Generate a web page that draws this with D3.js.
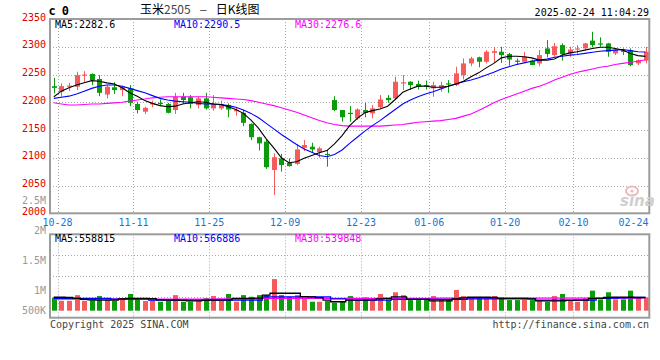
<!DOCTYPE html>
<html><head><meta charset="utf-8">
<script src="https://cdn.jsdelivr.net/npm/d3@7"></script>
<style>html,body{margin:0;padding:0;background:#fff;}svg{display:block;}</style>
</head><body>
<svg id="c" width="660" height="360"></svg>
<script>
const dates = ["10-28","10-29","10-30","10-31","11-01","11-04","11-05","11-06","11-07","11-08",
"11-11","11-12","11-13","11-14","11-15","11-18","11-19","11-20","11-21","11-22",
"11-25","11-26","11-27","11-28","11-29","12-02","12-03","12-04","12-05","12-06",
"12-09","12-10","12-11","12-12","12-13","12-16","12-17","12-18","12-19","12-20",
"12-23","12-24","12-25","12-26","12-27","12-30","12-31","01-02","01-03","01-06",
"01-07","01-08","01-09","01-10","01-13","01-14","01-15","01-16","01-17","01-20",
"01-21","01-22","01-23","01-24","01-27","02-05","02-06","02-07","02-10","02-11",
"02-12","02-13","02-14","02-17","02-18","02-19","02-20","02-21","02-24"];
const openP = [2229,2219,2228,2228,2248,2251,2242,2214,2227,2222, 2225,2197,2183,2196,2199,2197,2186,2210,2209,2195,
2207,2189,2189,2195,2185,2181,2161,2137,2129,2078, 2099,2091,2089,2118,2120,2110,2107,2204,2186,2181,
2171,2186,2180,2191,2208,2207,2235,2237,2233,2231, 2225,2225,2234,2231,2249,2270,2281,2273,2289,2291,
2287,2275,2273,2275,2270,2297,2285,2303,2288,2296, 2297,2311,2306,2306,2288,2293,2294,2270,2275];
const highP = [2244,2234,2235,2255,2256,2252,2249,2231,2236,2230, 2231,2201,2192,2203,2205,2199,2217,2217,2213,2210,
2217,2213,2203,2198,2190,2186,2162,2138,2132,2108, 2107,2099,2125,2132,2127,2120,2114,2211,2186,2193,
2189,2199,2195,2213,2213,2246,2249,2238,2239,2239, 2237,2237,2240,2264,2279,2282,2282,2294,2300,2300,
2289,2279,2291,2277,2294,2312,2307,2306,2300,2303, 2307,2327,2317,2307,2297,2297,2297,2277,2300];
const lowP = [2216,2210,2220,2222,2237,2231,2211,2207,2215,2211, 2193,2180,2179,2191,2193,2180,2179,2197,2189,2189,
2187,2185,2186,2173,2176,2157,2132,2113,2080,2033, 2075,2084,2087,2112,2109,2100,2084,2184,2165,2165,
2168,2173,2171,2189,2199,2205,2222,2222,2223,2223, 2210,2219,2217,2229,2241,2265,2263,2270,2271,2271,
2266,2267,2271,2267,2265,2281,2282,2275,2282,2287, 2295,2299,2300,2282,2285,2285,2265,2267,2270];
const closeP = [2226,2229,2230,2249,2250,2240,2217,2228,2222,2228, 2199,2186,2190,2199,2197,2181,2210,2204,2197,2207,
2189,2197,2197,2187,2186,2163,2137,2126,2083,2101, 2087,2085,2115,2123,2115,2117,2105,2186,2173,2179,
2187,2181,2189,2205,2204,2237,2236,2231,2228,2230, 2231,2231,2232,2252,2270,2279,2273,2291,2292,2285,
2277,2274,2282,2267,2285,2287,2301,2287,2295,2297, 2306,2303,2305,2291,2295,2292,2267,2276,2291];
const ma5 = [2210,2220,2226,2231,2235,2239,2238,2235,2233,2226, 2217,2211,2203,2198,2194,2192,2193,2197,2199,2201,
2200,2197,2196,2192,2187,2180,2168,2153,2134,2118, 2100,2091,2093,2099,2104,2109,2113,2125,2140,2158,
2171,2181,2185,2188,2193,2205,2218,2224,2229,2229, 2227,2227,2229,2233,2238,2246,2253,2262,2270,2280,
2283,2283,2282,2280,2276,2276,2278,2285,2289,2291, 2294,2297,2299,2299,2297,2294,2288,2284,2282.6];
const ma10 = [2207,2209,2211,2215,2220,2225,2229,2231,2231,2229, 2225,2221,2217,2212,2207,2204,2202,2201,2200,2198,
2197,2197,2196,2194,2191,2186,2180,2172,2162,2152, 2142,2133,2124,2116,2110,2104,2102,2106,2114,2126,
2137,2148,2158,2167,2177,2187,2197,2204,2210,2215, 2219,2224,2229,2233,2237,2240,2244,2249,2254,2260,
2264,2268,2271,2274,2276,2278,2281,2283,2285,2286, 2288,2290,2292,2293,2294,2295,2293,2291,2290.5];
const ma30 = [2199,2197,2195,2195,2196,2197,2197,2198,2199,2200, 2202,2204,2206,2208,2209,2210,2210,2210,2210,2210,
2210,2209,2208,2207,2206,2205,2203,2200,2197,2194, 2190,2186,2182,2177,2172,2167,2163,2160,2158,2157,
2157,2157,2157,2157,2158,2159,2160,2162,2164,2165, 2166,2167,2169,2171,2175,2179,2185,2192,2199,2205,
2210,2215,2220,2225,2229,2234,2240,2245,2250,2254, 2257,2260,2263,2265,2268,2270,2272,2274,2276.6];
const volume = [550000,420000,420000,660000,420000,450000,620000,480000,420000,530000,
710000,530000,410000,530000,380000,410000,660000,380000,380000,410000,
530000,620000,410000,710000,380000,660000,590000,660000,660000,1340000,
660000,590000,660000,530000,380000,380000,410000,340000,380000,620000,
450000,560000,450000,710000,480000,780000,660000,450000,450000,480000,
620000,480000,480000,880000,620000,530000,560000,530000,620000,560000,
450000,450000,480000,450000,450000,380000,620000,710000,450000,380000,
530000,850000,480000,780000,480000,480000,850000,560000,560000];
const volMa5 = [570000,570000,560000,520000,480000,460000,450000,450000,450000,500000,
520000,520000,520000,510000,460000,450000,450000,440000,420000,420000,
440000,450000,450000,460000,520000,520000,520000,530000,660000,740000,
740000,740000,740000,600000,590000,550000,450000,380000,380000,450000,
450000,450000,460000,500000,520000,590000,590000,480000,480000,480000,
420000,420000,420000,500000,540000,570000,570000,570000,560000,520000,
520000,520000,520000,500000,420000,420000,420000,420000,440000,450000,
450000,520000,520000,560000,570000,570000,570000,560000,558815];
const volMa10 = [520000,520000,520000,520000,520000,520000,520000,520000,490000,490000,
490000,490000,490000,450000,450000,450000,450000,450000,450000,450000,
450000,450000,450000,450000,450000,450000,450000,450000,590000,590000,
590000,590000,590000,590000,590000,590000,590000,500000,500000,450000,
450000,450000,450000,450000,450000,480000,480000,480000,480000,480000,
480000,480000,480000,480000,480000,500000,500000,500000,500000,500000,
500000,500000,500000,500000,450000,450000,450000,450000,450000,450000,
450000,450000,520000,520000,530000,540000,550000,560000,566886];
const volMa30 = [490000,490000,490000,490000,490000,490000,490000,490000,490000,490000,
490000,490000,490000,490000,490000,490000,490000,490000,490000,490000,
490000,490000,495000,495000,495000,495000,500000,500000,520000,520000,
520000,520000,520000,520000,520000,520000,520000,520000,520000,520000,
520000,520000,520000,520000,520000,525000,525000,525000,525000,525000,
525000,530000,530000,530000,530000,530000,530000,530000,530000,530000,
530000,530000,530000,530000,530000,530000,535000,535000,535000,535000,
535000,535000,535000,538000,538000,538000,539000,539000,539848];
const priceTicks = [2350,2300,2250,2200,2150,2100,2050,2000];
const volTicks = [2500000,2000000,1500000,1000000,500000];
const volTickLabels = ["2.5M","2M","1.5M","1M","500K"];
const dateTicks = ["10-28","11-11","11-25","12-09","12-23","01-06","01-20","02-10","02-24"];

const svg = d3.select("#c");
const L = 50, R = 649.3, T = 19, B = 213.3;
const VT = 234.3, VB = 317.7, VBase = 310.7;
const mono = "'DejaVu Sans Mono', monospace";
const RED = "#f55b5b", GREEN = "#0a9c0a", GRID = "#aaa", FRAME = "#9c9c9c";

const x = d3.scaleBand().domain(dates).range([L, R]);
const bw = x.bandwidth();
const cx = d => x(d) + bw / 2;
const y = d3.scaleLinear().domain([2000, 2350]).range([B, T]);
const yv = d3.scaleLinear().domain([0, 1000000]).range([VBase, VBase - 23.6]);
const yvLab = d3.scaleLinear().domain([500000, 1000000, 2500000]).range([314, 294, 204]);

// grids
const g = svg.append("g");
priceTicks.filter(v => v !== 2350 && v !== 2000).forEach(v => {
  g.append("line").attr("x1", L).attr("x2", R).attr("y1", Math.round(y(v)) + 0.5).attr("y2", Math.round(y(v)) + 0.5)
   .attr("stroke", GRID).attr("stroke-dasharray", "1,2");
});
dateTicks.slice(0, -1).forEach(d => {
  const gx = Math.round(x(d) + bw) + 0.5;
  g.append("line").attr("x1", gx).attr("x2", gx).attr("y1", T).attr("y2", B).attr("stroke", GRID).attr("stroke-dasharray", "1,2");
  g.append("line").attr("x1", gx).attr("x2", gx).attr("y1", VT).attr("y2", 320).attr("stroke", GRID).attr("stroke-dasharray", "1,2");
});
[1, 2, 3].forEach(k => {
  const gy = Math.round(VT + (VB - VT) * k / 4) + 0.5;
  g.append("line").attr("x1", L).attr("x2", R).attr("y1", gy).attr("y2", gy).attr("stroke", GRID).attr("stroke-dasharray", "1,2");
});

// candles + volume bars
const cg = svg.append("g");
dates.forEach((d, i) => {
  const o = openP[i], c = closeP[i], up = c >= o;
  const col = up ? RED : GREEN;
  const px = Math.round(cx(d)) + 0.5;
  cg.append("line").attr("x1", px).attr("x2", px).attr("y1", y(highP[i])).attr("y2", y(lowP[i])).attr("stroke", col).attr("stroke-width", 1);
  const y1 = y(Math.max(o, c)), y2 = y(Math.min(o, c));
  cg.append("rect").attr("x", px - 2.5).attr("width", 5).attr("y", y1).attr("height", Math.max(1.2, y2 - y1)).attr("fill", col);
  cg.append("rect").attr("x", px - 2.5).attr("width", 5).attr("y", yv(volume[i])).attr("height", VBase - yv(volume[i])).attr("fill", col);
});

// MA lines
const line = d3.line().x((v, i) => cx(dates[i])).y(v => y(v));
[[ma30, "#ff00ff"], [ma10, "#0000ff"], [ma5, "#000"]].forEach(([arr, col]) => {
  svg.append("path").attr("d", line(arr)).attr("fill", "none").attr("stroke", col).attr("stroke-width", 1.1);
});
const vline = d3.line().x((v, i) => cx(dates[i])).y(v => yv(v)).curve(d3.curveStep);
[[volMa30, "#ff00ff"], [volMa10, "#0000ff"], [volMa5, "#000"]].forEach(([arr, col]) => {
  svg.append("path").attr("d", vline(arr)).attr("fill", "none").attr("stroke", col).attr("stroke-width", 1.3);
});

// frames
svg.append("rect").attr("x", L).attr("y", T).attr("width", R - L).attr("height", B - T).attr("fill", "none").attr("stroke", FRAME).attr("stroke-width", 2);
svg.append("rect").attr("x", L).attr("y", VT).attr("width", R - L).attr("height", VB - VT).attr("fill", "none").attr("stroke", FRAME).attr("stroke-width", 2);

// texts
const txt = (s, tx, ty, opt = {}) => svg.append("text").text(s).attr("x", tx).attr("y", ty)
  .attr("font-family", opt.font || mono).attr("font-size", opt.size || 10).attr("fill", opt.fill || "#000")
  .attr("text-anchor", opt.anchor || "start").attr("font-weight", opt.weight || "normal");

priceTicks.forEach(v => txt(String(v), 46, y(v) + 1.7, {fill: "#e00000", anchor: "end"}));
volTicks.forEach((v, i) => txt(volTickLabels[i], 46, yvLab(v), {fill: "#999", anchor: "end"}));
dateTicks.forEach((d, i) => {
  const last = i === dateTicks.length - 1;
  txt(d, last ? 648.5 : x(d) + bw, 225.5, {fill: "#1a76d2", anchor: last ? "end" : "middle"});
});

txt("c 0", 48.5, 15, {size: 12, weight: "bold"}).attr("letter-spacing", "-0.6");
const title = svg.append("text").attr("x", 140).attr("y", 14).attr("font-family", "'Noto Sans CJK SC', sans-serif").attr("font-size", 12).attr("fill", "#000");
title.append("tspan").text("玉米");
title.append("tspan").text("2505").attr("fill", "#444");
title.append("tspan").text("－").attr("dx", 8).attr("font-size", 9);
title.append("tspan").text("日K线图").attr("dx", 8);
txt("2025-02-24 11:04:29", 649, 16, {anchor: "end"});

txt("MA5:" + ma5[ma5.length - 1], 55, 27.5, {fill: "#000"});
txt("MA10:" + ma10[ma10.length - 1], 174, 27.5, {fill: "#0000ff"});
txt("MA30:" + ma30[ma30.length - 1], 295, 27.5, {fill: "#ff00ff"});
txt("MA5:" + volMa5[volMa5.length - 1], 55, 241.5, {fill: "#000"});
txt("MA10:" + volMa10[volMa10.length - 1], 174, 241.5, {fill: "#0000ff"});
txt("MA30:" + volMa30[volMa30.length - 1], 295, 241.5, {fill: "#ff00ff"});

txt("Copyright 2025 SINA.COM", 50, 327.5, {fill: "#444"});
txt("http://finance.sina.com.cn", 649, 327.5, {fill: "#444", anchor: "end"});

// sina watermark
svg.append("ellipse").attr("cx", 632).attr("cy", 191).attr("rx", 6).attr("ry", 4.5).attr("fill", "none").attr("stroke", "#f0b8b8").attr("stroke-width", 2);
svg.append("circle").attr("cx", 632).attr("cy", 191).attr("r", 1.6).attr("fill", "#f0b8b8");
txt("sina", 620, 206, {font: "'DejaVu Sans', sans-serif", size: 15, weight: "bold", fill: "#cfcfcf"}).attr("font-style", "italic");
</script>
</body></html>
